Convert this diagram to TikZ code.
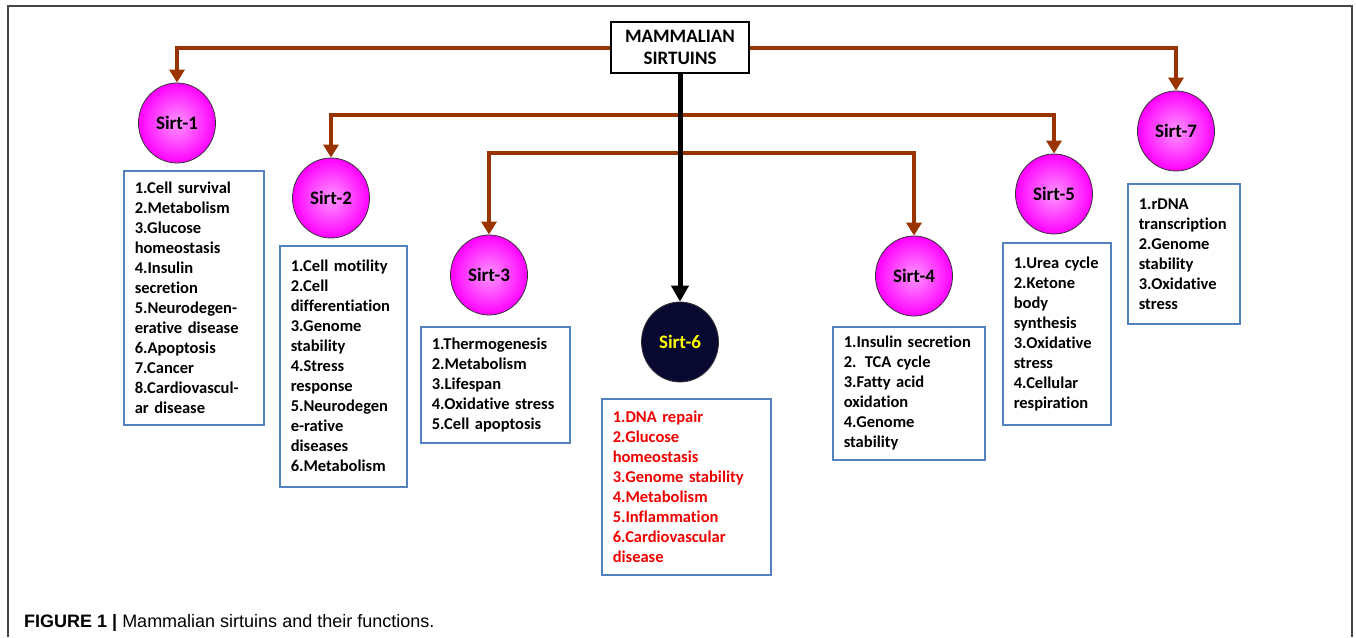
\documentclass[tikz,border=0pt]{standalone}
\usepackage{fontspec}
\setmainfont{Carlito}[Ligatures=NoCommon]
\newfontfamily\capfont{Liberation Sans}
\usetikzlibrary{shapes.geometric,arrows.meta}
\definecolor{brarrow}{RGB}{153,51,0}
\definecolor{boxblue}{RGB}{84,130,190}
\definecolor{navysix}{RGB}{8,8,48}
\definecolor{framegray}{RGB}{70,70,70}
\definecolor{sirtlight}{RGB}{255,150,255}
\definecolor{sirtmag}{RGB}{255,0,255}
\definecolor{sixtext}{RGB}{255,255,0}
\definecolor{redtext}{RGB}{240,0,0}
\begin{document}
\begin{tikzpicture}[x=1pt,y=-1pt,
  sirtbase/.style={ellipse, draw=black!80, line width=0.8pt, minimum width=77pt, minimum height=80pt, inner sep=0pt, font=\fontsize{19}{22}\selectfont\bfseries},
  sirtpink/.style={sirtbase, shading=radial, inner color=sirtlight, outer color=sirtmag},
  fnbox/.style={draw=boxblue, line width=1.5pt, anchor=north west, align=left, inner xsep=11pt, inner ysep=0pt, font=\fontsize{16.5}{20}\selectfont\bfseries},
  brar/.style={draw=brarrow, line width=4pt, -{Triangle[width=15pt,length=13pt]}},
  bkar/.style={draw=black, line width=5pt, -{Triangle[width=17pt,length=16pt]}}
]
\useasboundingbox (0,0) rectangle (1356,637);
% frame
\draw[framegray, line width=1.5pt] (8,637) -- (8,6) -- (1352,6) -- (1352,637);

% main box
\node[draw, line width=1.2pt, fill=white, minimum width=138pt, minimum height=51pt, align=center, inner sep=0pt, font=\fontsize{19}{22}\selectfont\bfseries] (main) at (680,47.5) {MAMMALIAN\\SIRTUINS};

% sirtuin ellipses
\node[sirtpink] (s1) at (177,123) {Sirt-1};
\node[sirtpink] (s2) at (331,198) {Sirt-2};
\node[sirtpink] (s3) at (489,275) {Sirt-3};
\node[sirtbase, fill=navysix, text=sixtext] (s6) at (680,342) {Sirt-6};
\node[sirtpink] (s4) at (914,276) {Sirt-4};
\node[sirtpink] (s5) at (1054,194) {Sirt-5};
\node[sirtpink] (s7) at (1176,131) {Sirt-7};

% function boxes
\node[fnbox, text width=118pt, minimum height=254pt] (b1) at (123,170) {1.Cell survival\\2.Metabolism\\3.Glucose\\homeostasis\\4.Insulin\\secretion\\5.Neurodegen-\\erative disease\\6.Apoptosis\\7.Cancer\\8.Cardiovascul-\\ar disease};
\node[fnbox, text width=105pt, minimum height=241pt] (b2) at (279,245) {1.Cell motility\\2.Cell\\differentiation\\3.Genome\\stability\\4.Stress\\response\\5.Neurodegen\\e-rative\\diseases\\6.Metabolism};
\node[fnbox, text width=127pt, minimum height=116pt] (b3) at (420,326) {1.Thermogenesis\\2.Metabolism\\3.Lifespan\\4.Oxidative stress\\5.Cell apoptosis};
\node[fnbox, text width=147pt, minimum height=176pt, text=redtext] (b6) at (601,398) {1.DNA repair\\2.Glucose\\homeostasis\\3.Genome stability\\4.Metabolism\\5.Inflammation\\6.Cardiovascular\\disease};
\node[fnbox, text width=130pt, minimum height=133pt] (b4) at (832,326) {1.Insulin secretion\\2. TCA cycle\\3.Fatty acid\\oxidation\\4.Genome\\stability};
\node[fnbox, text width=86pt, minimum height=182pt] (b5) at (1002,242) {1.Urea cycle\\2.Ketone\\body\\synthesis\\3.Oxidative\\stress\\4.Cellular\\respiration};
\node[fnbox, text width=90pt, minimum height=140pt] (b7) at (1127,183) {1.rDNA\\transcription\\2.Genome\\stability\\3.Oxidative\\stress};

% connectors
\coordinate (j2) at (680,115);
\coordinate (j3) at (680,153);
\draw[brar] (main.west) -| (s1.north);
\draw[brar] (main.east) -| (s7.north);
\draw[brar] (j2) -| (s2.north);
\draw[brar] (j2) -| (s5.north);
\draw[brar] (j3) -| (s3.north);
\draw[brar] (j3) -| (s4.north);
\draw[bkar] (main.south) -- (s6.north);

% caption
\node[anchor=base west, inner sep=0pt, font=\capfont\fontsize{18}{21}\selectfont] (cap) at (24,627) {\textbf{FIGURE 1 |} Mammalian sirtuins and their functions.};
\end{tikzpicture}
\end{document}
